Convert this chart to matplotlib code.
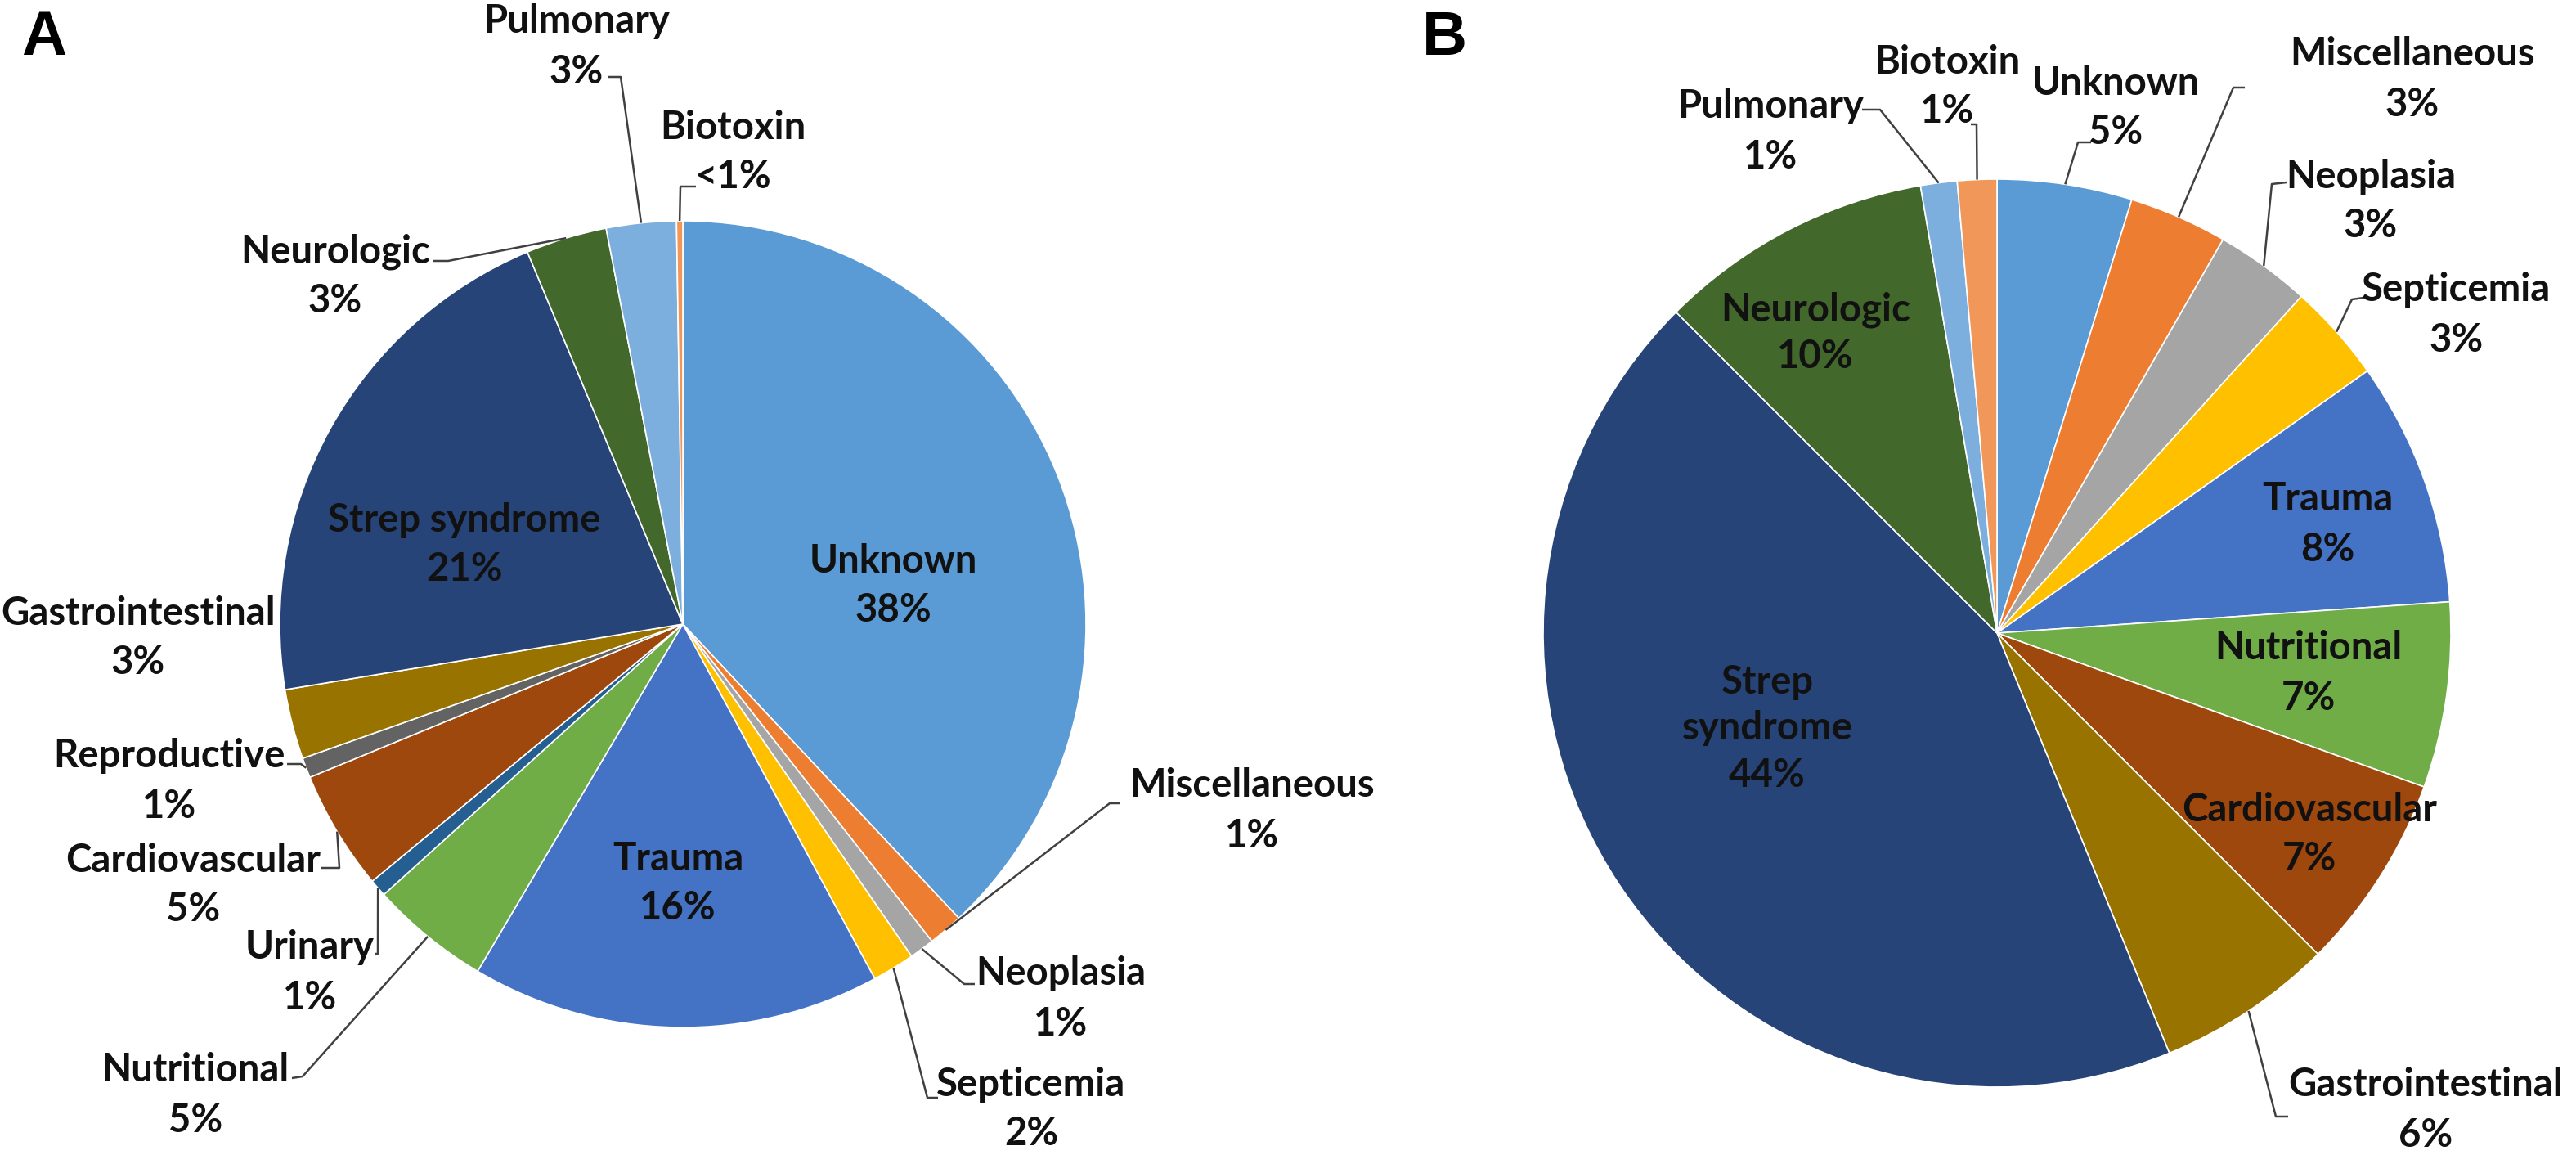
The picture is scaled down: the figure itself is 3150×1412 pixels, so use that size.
import numpy as np
import matplotlib.pyplot as plt

W, H = 3150, 1412

# panel A, clockwise from 12 o'clock
cats_a = ['Unknown', 'Miscellaneous', 'Neoplasia', 'Septicemia', 'Trauma',
          'Nutritional', 'Urinary', 'Cardiovascular', 'Reproductive',
          'Gastrointestinal', 'Strep syndrome', 'Neurologic', 'Pulmonary', 'Biotoxin']
vals_a = [38.0, 1.4, 1.0, 1.7, 16.4, 4.8, 0.7, 4.8, 0.8, 2.8, 21.3, 3.25, 2.8, 0.25]
pct_a = ['38%', '1%', '1%', '2%', '16%', '5%', '1%', '5%', '1%', '3%', '21%', '3%', '3%', '<1%']

# panel B
cats_b = ['Unknown', 'Miscellaneous', 'Neoplasia', 'Septicemia', 'Trauma',
          'Nutritional', 'Cardiovascular', 'Gastrointestinal', 'Strep syndrome',
          'Neurologic', 'Pulmonary', 'Biotoxin']
vals_b = [4.8, 3.5, 3.4, 3.5, 8.7, 6.6, 7.0, 6.3, 43.7, 9.8, 1.3, 1.4]
pct_b = ['5%', '3%', '3%', '3%', '8%', '7%', '7%', '6%', '44%', '10%', '1%', '1%']

colors = {
    'Unknown': '#5B9BD5', 'Miscellaneous': '#ED7D31', 'Neoplasia': '#A5A5A5',
    'Septicemia': '#FFC000', 'Trauma': '#4472C4', 'Nutritional': '#70AD47',
    'Urinary': '#255E91', 'Cardiovascular': '#9E480E', 'Reproductive': '#636363',
    'Gastrointestinal': '#997300', 'Strep syndrome': '#264478', 'Neurologic': '#43682B',
    'Pulmonary': '#7CAFDD', 'Biotoxin': '#F1975A',
}

# label layout in image pixels (y down): first-line position, leader (start, elbow)
lab_a = {
    'Unknown': ((1092, 684), None),
    'Miscellaneous': ((1531, 959), ((1370, 982), (1357, 982))),
    'Neoplasia': ((1297, 1189), ((1192, 1203), (1179, 1203))),
    'Septicemia': ((1261, 1324), ((1147, 1342), (1134, 1342))),
    'Trauma': ((829, 1048), None),
    'Nutritional': ((239, 1307), ((357, 1318), (370, 1316))),
    'Urinary': ((379, 1157), ((458, 1166), (462, 1166))),
    'Cardiovascular': ((236, 1050), ((392, 1061), (415, 1061))),
    'Reproductive': ((207, 923), ((351, 934), (368, 934))),
    'Gastrointestinal': ((169, 748), None),
    'Strep syndrome': ((568, 634), None),
    'Neurologic': ((410, 306), ((529, 319), (548, 319))),
    'Pulmonary': ((705, 25), ((743, 94), (759, 94))),
    'Biotoxin': ((896, 154), ((851, 228), (832, 228))),
}
lab_b = {
    'Unknown': ((2587, 100), ((2557, 174), (2541, 174))),
    'Miscellaneous': ((2950, 65), ((2745, 107), (2731, 107))),
    'Neoplasia': ((2899, 214), ((2796, 223), (2778, 225))),
    'Septicemia': ((3004, 353), ((2890, 364), (2876, 366))),
    'Trauma': ((2846, 609), None),
    'Nutritional': ((2823, 791), None),
    'Cardiovascular': ((2824, 988), None),
    'Gastrointestinal': ((2966, 1325), ((2798, 1365), (2783, 1365))),
    'Strep syndrome': ((2161, 832), None),
    'Neurologic': ((2220, 377), None),
    'Pulmonary': ((2165, 129), ((2277, 134), (2299, 134))),
    'Biotoxin': ((2381, 74), ((2410, 152), (2417, 152))),
}

FONT = ['Lato', 'DejaVu Sans']
FS = 34
CAP = 31
GAP = 61
TXT = '#111111'
LEAD = '#404040'

fig = plt.figure(figsize=(W / 100, H / 100), dpi=100)
ax = fig.add_axes([0, 0, 1, 1])


def put(x, y, s):
    # y is the cap centre in image pixels
    ax.text(x, H - (y + CAP / 2), s, ha='center', va='baseline',
            fontsize=FS, fontweight='bold', family=FONT, color=TXT)


def draw_pie(cats, vals, pcts, labs, cx, cy, r, split_strep=False):
    wedges, _ = ax.pie(vals, colors=[colors[c] for c in cats], startangle=90,
                       counterclock=False, center=(cx, H - cy), radius=r,
                       wedgeprops=dict(edgecolor='white', linewidth=1.2))
    for w, c, p in zip(wedges, cats, pcts):
        (x, y), lead = labs[c]
        lines = c.split(' ') if (c == 'Strep syndrome' and split_strep) else [c]
        lines = lines + [p]
        gap = 57 if (split_strep and c in ('Strep syndrome', 'Neurologic')) else GAP
        for i, s in enumerate(lines):
            put(x, y + i * gap, s)
        if lead is not None:
            (sx, sy), (ex, ey) = lead
            t = np.deg2rad((w.theta1 + w.theta2) / 2)
            px = cx + r * np.cos(t)
            py = (H - cy) + r * np.sin(t)
            ax.plot([sx, ex, px], [H - sy, H - ey, py], color=LEAD, lw=1.8,
                    solid_capstyle='butt')


draw_pie(cats_a, vals_a, pct_a, lab_a, 835, 763, 493)
draw_pie(cats_b, vals_b, pct_b, lab_b, 2442, 774, 555, split_strep=True)

ax.text(26, H - 67, 'A', fontsize=55, fontweight='bold', family='Liberation Sans',
        ha='left', va='baseline')
ax.text(1739, H - 67, 'B', fontsize=55, fontweight='bold', family='Liberation Sans',
        ha='left', va='baseline')

ax.set_xlim(0, W)
ax.set_ylim(0, H)
ax.set_aspect('equal')
ax.axis('off')

fig.savefig('out.png', dpi=100)
